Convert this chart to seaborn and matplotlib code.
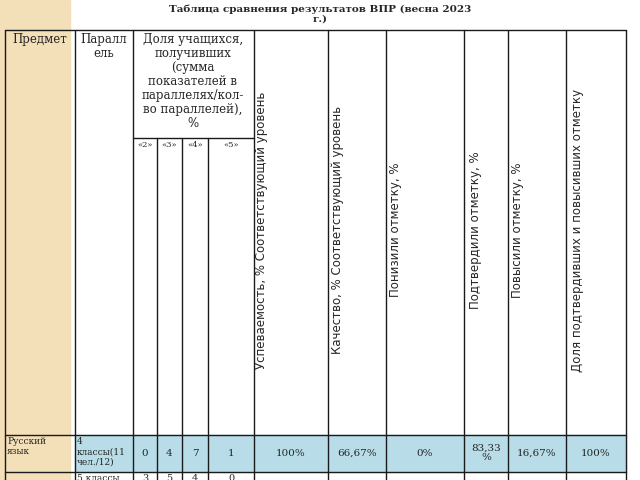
import matplotlib
matplotlib.use("Agg")
import matplotlib.pyplot as plt
import seaborn as sns

sns.set_theme(style="white")
plt.rcParams['font.family'] = ['DejaVu Serif']

title = "Таблица сравнения результатов ВПР (весна 2023\nг.)"
grade_labels = ["«2»", "«3»", "«4»", "«5»"]
vert_headers = ["Успеваемость, % Соответствующий уровень",
                "Качество, % Соответствующий уровень",
                "Понизили отметку, %", "Подтвердили отметку, %",
                "Повысили отметку, %", "Доля подтвердивших и повысивших отметку"]
subject = "Русский\nязык"
parallels = ["4\nклассы(11\nчел./12)", "5 классы"]
grades_row1 = ["0", "4", "7", "1"]
grades_row2 = ["3", "5", "4", "0"]
stats_row1 = ["100%", "66,67%", "0%", "83,33\n%", "16,67%", "100%"]

fig = plt.figure(figsize=(6.4, 4.8), dpi=100)
ax = fig.add_axes([0, 0, 1, 1])
ax.set_xlim(0, 640); ax.set_ylim(480, 0); ax.axis("off")

xs = [5, 75, 133, 157, 182, 208, 254, 328, 386, 464, 508, 566, 626]
top, sub, rtop, rbot = 30, 138, 435, 472
ax.add_patch(plt.Rectangle((0, 0), 70, 480, color="#f3dfb8", zorder=0))
ax.add_patch(plt.Rectangle((75, rtop), 551, rbot - rtop, color="#b8dde8", zorder=0))
lw = 1.0
ax.plot([5, 626], [top, top], color="k", lw=lw)
ax.plot([5, 626], [rtop, rtop], color="k", lw=lw)
ax.plot([5, 626], [rbot, rbot], color="k", lw=lw)
ax.plot([133, 254], [sub, sub], color="k", lw=lw)
for i, x in enumerate(xs):
    y0 = sub if 3 <= i <= 5 else top
    ax.plot([x, x], [y0, 480], color="k", lw=lw)

ax.text(320, 4, title, ha="center", va="top", fontsize=7.5, fontweight="bold", linespacing=1.1)
ax.text(40, 33, "Предмет", ha="center", va="top", fontsize=8.5)
ax.text(104, 33, "Паралл\nель", ha="center", va="top", fontsize=8.5, linespacing=1.1)
ax.text(193, 33, "Доля учащихся,\nполучивших\n(сумма\nпоказателей в\nпараллелях/кол-\nво параллелей),\n%",
        ha="center", va="top", fontsize=8.5, linespacing=1.1)
for i, g in enumerate(grade_labels):
    ax.text((xs[2+i] + xs[3+i]) / 2, 141, g, ha="center", va="top", fontsize=6)
offs = [8, 10, 10, 11, 10, 12]
for i, h in enumerate(vert_headers):
    ax.text(xs[6+i] + offs[i], 230, h, rotation=90, ha="center", va="center",
            fontsize=8.5, family="DejaVu Sans")
ax.text(7, 437, subject, ha="left", va="top", fontsize=6.5, linespacing=1.2)
ax.text(77, 437, parallels[0], ha="left", va="top", fontsize=6.5, linespacing=1.15)
ax.text(77, 474, parallels[1], ha="left", va="top", fontsize=6.5)
for i, v in enumerate(grades_row1):
    ax.text((xs[2+i] + xs[3+i]) / 2, 453, v, ha="center", va="center", fontsize=7.5)
for i, v in enumerate(grades_row2):
    ax.text((xs[2+i] + xs[3+i]) / 2, 474, v, ha="center", va="top", fontsize=7)
for i, v in enumerate(stats_row1):
    ax.text((xs[6+i] + xs[7+i]) / 2, 453, v, ha="center", va="center", fontsize=7.5, linespacing=1.1)

fig.savefig("out.png", dpi=100)
